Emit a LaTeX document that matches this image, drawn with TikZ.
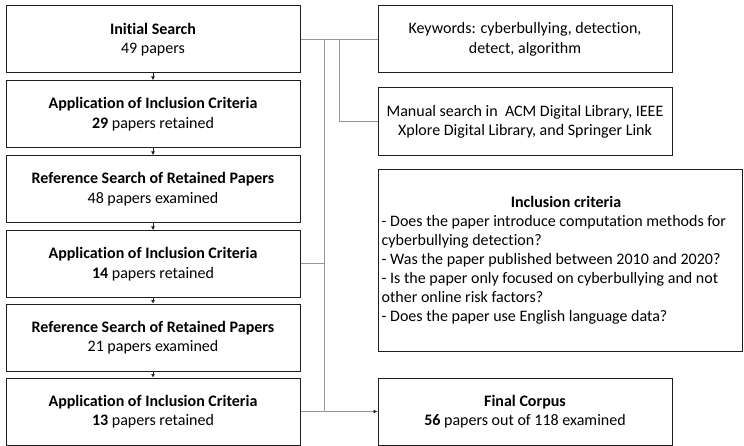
\documentclass[tikz,border=0pt]{standalone}
\usepackage{fontspec}
\setmainfont{Carlito}[Ligatures=NoCommon]
\usetikzlibrary{arrows.meta}
\definecolor{conn}{RGB}{150,150,150}
\definecolor{edge}{RGB}{30,30,30}
\tikzset{
  box/.style={draw=edge, line width=1pt, fill=white, inner sep=0pt, align=center,
    font=\fontsize{16}{19.5}\selectfont, minimum height=67pt},
  leftbox/.style={box, minimum width=294pt},
  rightbox/.style={box, minimum width=294pt},
  conn/.style={draw=conn, line width=1pt},
  down/.style={draw=edge, line width=0.6pt, -{Latex[length=3.5pt,width=4pt]}},
  txt/.style={inner sep=0pt, font=\fontsize{16}{19}\selectfont}
}
\begin{document}
\begin{tikzpicture}[x=1pt,y=-1pt]
\useasboundingbox (0,0) rectangle (744,446);
% left column
\node[leftbox] (a1) at (153,39.5) {\textbf{Initial Search}\\49 papers};
\node[leftbox] (a2) at (153,114) {\textbf{Application of Inclusion Criteria}\\\textbf{29} papers retained};
\node[leftbox] (a3) at (153,189) {\textbf{Reference Search of Retained Papers}\\48 papers examined};
\node[leftbox] (a4) at (153,264) {\textbf{Application of Inclusion Criteria}\\\textbf{14} papers retained};
\node[leftbox] (a5) at (153,337.5) {\textbf{Reference Search of Retained Papers}\\21 papers examined};
\node[leftbox] (a6) at (153,411.5) {\textbf{Application of Inclusion Criteria}\\\textbf{13} papers retained};
% right column
\node[rightbox] (kw) at (525,39.5) {Keywords: cyberbullying, detection,\\detect, algorithm};
\node[rightbox, minimum height=68pt] (man) at (525,122) {Manual search in\ \ ACM Digital Library, IEEE\\Xplore Digital Library, and Springer Link};
\node[box, minimum width=364pt, minimum height=181pt] (inc) at (560,260.5) {};
\node[txt, anchor=base] (inctitle) at (566,207.5) {\textbf{Inclusion criteria}};
\node[txt, anchor=base west] (l1) at (381.5,226.7) {- Does the paper introduce computation methods for};
\node[txt, anchor=base west] (l2) at (381.5,245.7) {cyberbullying detection?};
\node[txt, anchor=base west] (l3) at (381.5,264.7) {- Was the paper published between 2010 and 2020?};
\node[txt, anchor=base west] (l4) at (381.5,283.7) {- Is the paper only focused on cyberbullying and not};
\node[txt, anchor=base west] (l5) at (381.5,302.7) {other online risk factors?};
\node[txt, anchor=base west] (l6) at (381.5,321.7) {- Does the paper use English language data?};
\node[rightbox] (fin) at (525,411.5) {\textbf{Final Corpus}\\\textbf{56} papers out of 118 examined};
% arrows down the left column
\draw[down] (a1.south) -- (a2.north);
\draw[down] (a2.south) -- (a3.north);
\draw[down] (a3.south) -- (a4.north);
\draw[down] (a4.south) -- (a5.north);
\draw[down] (a5.south) -- (a6.north);
% connectors
\coordinate (j1) at (324,39.5);
\coordinate (j2) at (339,39.5);
\coordinate (j3) at (324,411.5);
\draw[conn] (a1.east) -- (kw.west);
\draw[conn] (j2) |- (man.west);
\draw[conn] (j1) -- (j3);
\draw[conn] (a4.east) -- (a4.east -| j1);
\draw[conn, -{Latex[length=4pt,width=4pt,color=edge]}] (a6.east) -- (fin.west);
\end{tikzpicture}
\end{document}
